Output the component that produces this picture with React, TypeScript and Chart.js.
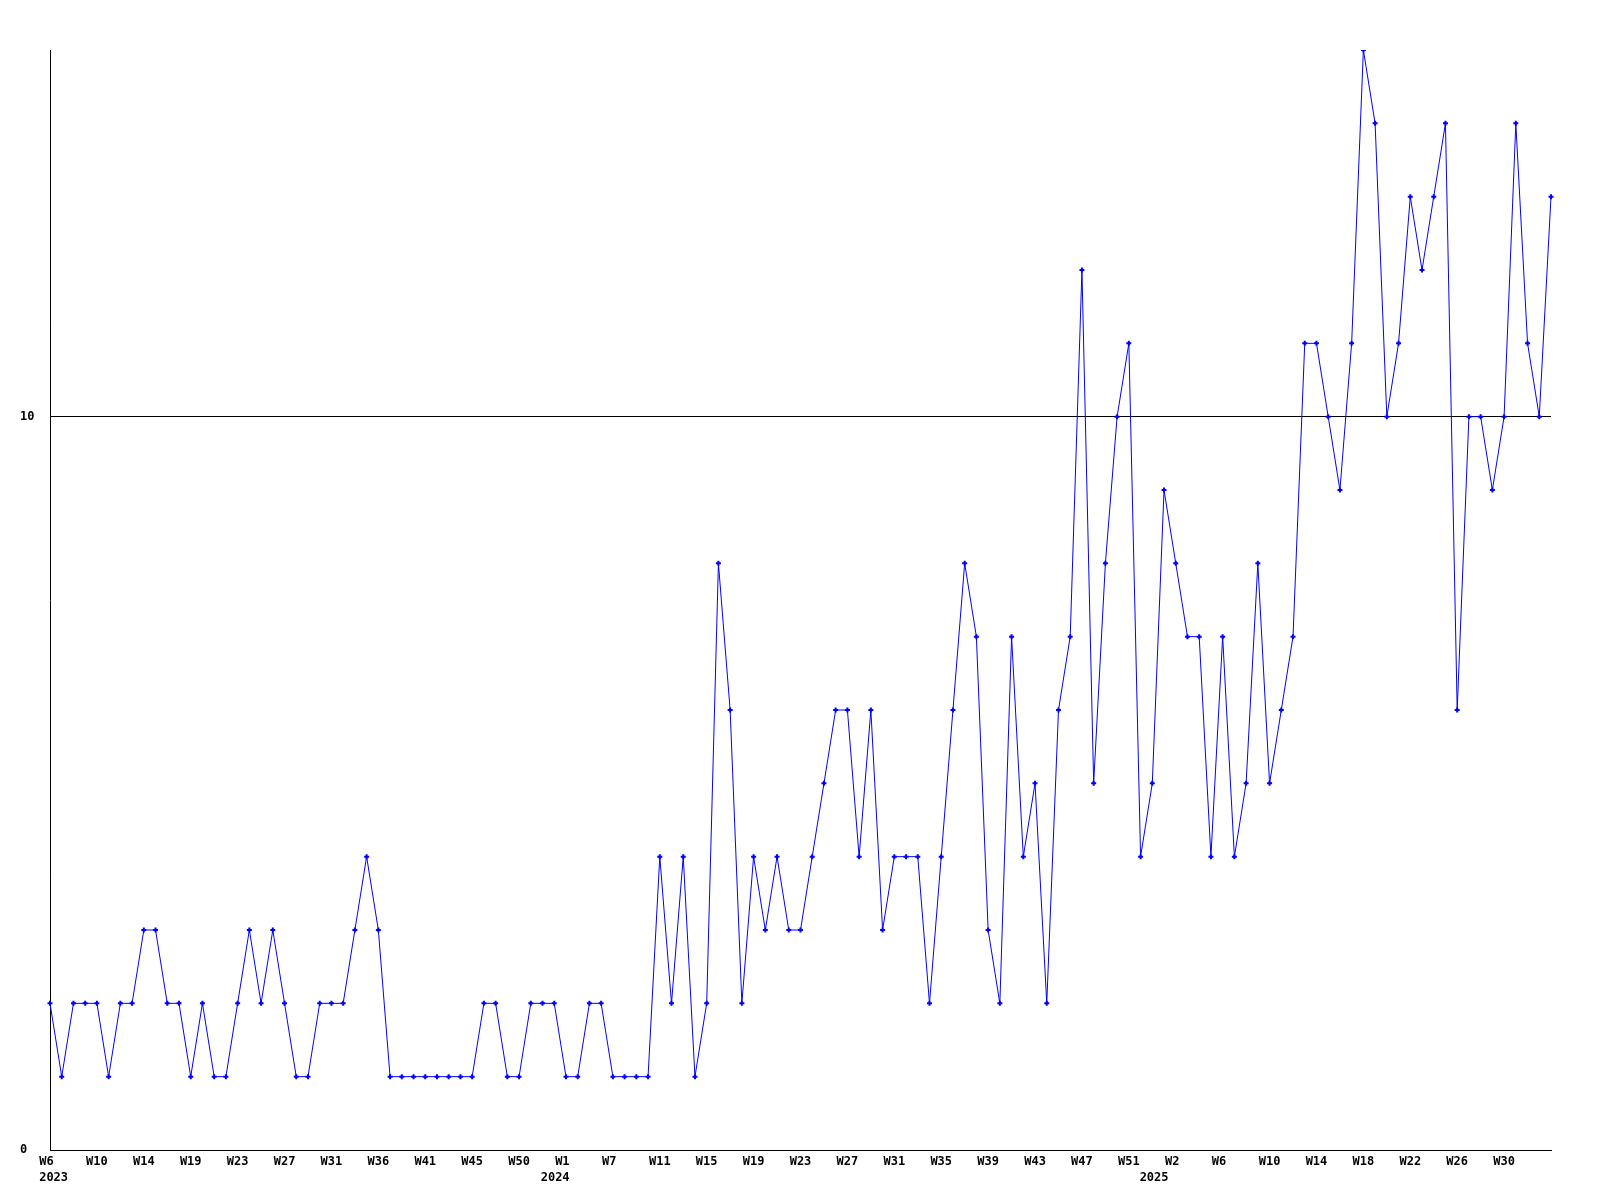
import React, { useEffect, useRef } from "react";
import { Chart, registerables } from "chart.js";

Chart.register(...registerables);

// Weekly values (one point per period), 2023 W6 .. 2025 ~W33
const values: number[] = [
  2, 1, 2, 2, 2, 1, 2, 2, 3, 3, 2, 2, 1, 2, 1, 1, 2, 3, 2, 3, 2, 1, 1, 2, 2, 2, 3,
  4, 3,
  1, 1, 1, 1, 1, 1, 1, 1,
  2, 2, 1, 1, 2, 2, 2, 1, 1, 2, 2, 1, 1, 1, 1,
  4, 2, 4, 1, 2, 8, 6, 2, 4, 3, 4, 3, 3, 4, 5, 6, 6, 4, 6, 3, 4, 4, 4, 2, 4,
  6, 8, 7, 3, 2, 7, 4, 5, 2, 6, 7, 12, 5, 8, 10, 11, 4, 5, 9, 8, 7, 7, 4, 7,
  4, 5, 8, 5, 6, 7, 11, 11, 10, 9, 11, 15, 14, 10, 11, 13, 12, 13, 14, 6, 10,
  10, 9, 10, 14, 11, 10, 13,
];

// Tick labels shown every 4th point
const weekLabels: string[] = [
  "W6", "W10", "W14", "W19", "W23", "W27", "W31", "W36", "W41", "W45", "W50",
  "W1", "W7", "W11", "W15", "W19", "W23", "W27", "W31", "W35", "W39", "W43",
  "W47", "W51", "W2", "W6", "W10", "W14", "W18", "W22", "W26", "W30",
];

// Year labels: [point index, text]
const yearIndices: number[] = [0, 44, 96];
const yearTexts: string[] = [" 2023", "2024   ", "2025      "];

const yTickValues: number[] = [0, 10];

const LABEL_STEP = 4;

function buildLabels(): (string | string[])[] {
  const out: (string | string[])[] = [];
  for (let i = 0; i < values.length; i++) {
    if (i % LABEL_STEP === 0) {
      const w = weekLabels[i / LABEL_STEP] ?? "";
      const padded = w.length < 3 ? w + " ".repeat(3 - w.length) : w;
      const yi = yearIndices.indexOf(i);
      if (yi >= 0) out.push([padded, yearTexts[yi]]);
      else out.push(padded);
    } else {
      out.push("");
    }
  }
  return out;
}

export default function App() {
  const canvasRef = useRef<HTMLCanvasElement | null>(null);

  useEffect(() => {
    if (!canvasRef.current) return;
    const labels = buildLabels();
    const font = { family: "'DejaVu Sans Mono', monospace", size: 12, weight: "bold" as const, lineHeight: 1.34 };
    const chart = new Chart(canvasRef.current, {
      type: "line",
      data: {
        labels: values.map((_, i) => String(i)),
        datasets: [
          {
            data: values,
            borderColor: "#0000ff",
            backgroundColor: "#0000ff",
            borderWidth: 1,
            tension: 0,
            pointStyle: "cross",
            pointRadius: 2.5,
            pointBorderWidth: 2,
            pointBorderColor: "#0000ff",
            pointBackgroundColor: "#0000ff",
            fill: false,
          },
        ],
      },
      options: {
        animation: false,
        responsive: false,
        maintainAspectRatio: false,
        layout: { padding: { top: 50, right: 49, left: 20, bottom: 0 } },
        plugins: { legend: { display: false }, tooltip: { enabled: false }, title: { display: false } },
        scales: {
          x: {
            type: "category",
            offset: false,
            grid: { display: false, drawTicks: false },
            border: { display: true, color: "#000000", width: 1 },
            ticks: {
              autoSkip: false,
              maxRotation: 0,
              minRotation: 0,
              padding: 4,
              color: "#000000",
              font,
              callback: (_v: any, i: number) => labels[i],
            },
            afterFit: (s: any) => {
              s.height = 50;
            },
          },
          y: {
            min: 0,
            max: 15,
            grid: { display: true, drawTicks: false, color: "#000000", lineWidth: 1 },
            border: { display: true, color: "#000000", width: 1 },
            ticks: {
              crossAlign: "far",
              color: "#000000",
              font,
              callback: (v: any) => String(v),
            },
            afterBuildTicks: (s: any) => {
              s.ticks = yTickValues.map((v) => ({ value: v }));
            },
            afterFit: (s: any) => {
              s.width = 30;
            },
          },
        },
      },
    });
    return () => chart.destroy();
  }, []);

  return (
    <div style={{ position: "absolute", left: 0, top: 0, width: 1600, height: 1200, background: "#ffffff" }}>
      <canvas ref={canvasRef} width={1600} height={1200} style={{ width: 1600, height: 1200, display: "block" }} />
    </div>
  );
}
